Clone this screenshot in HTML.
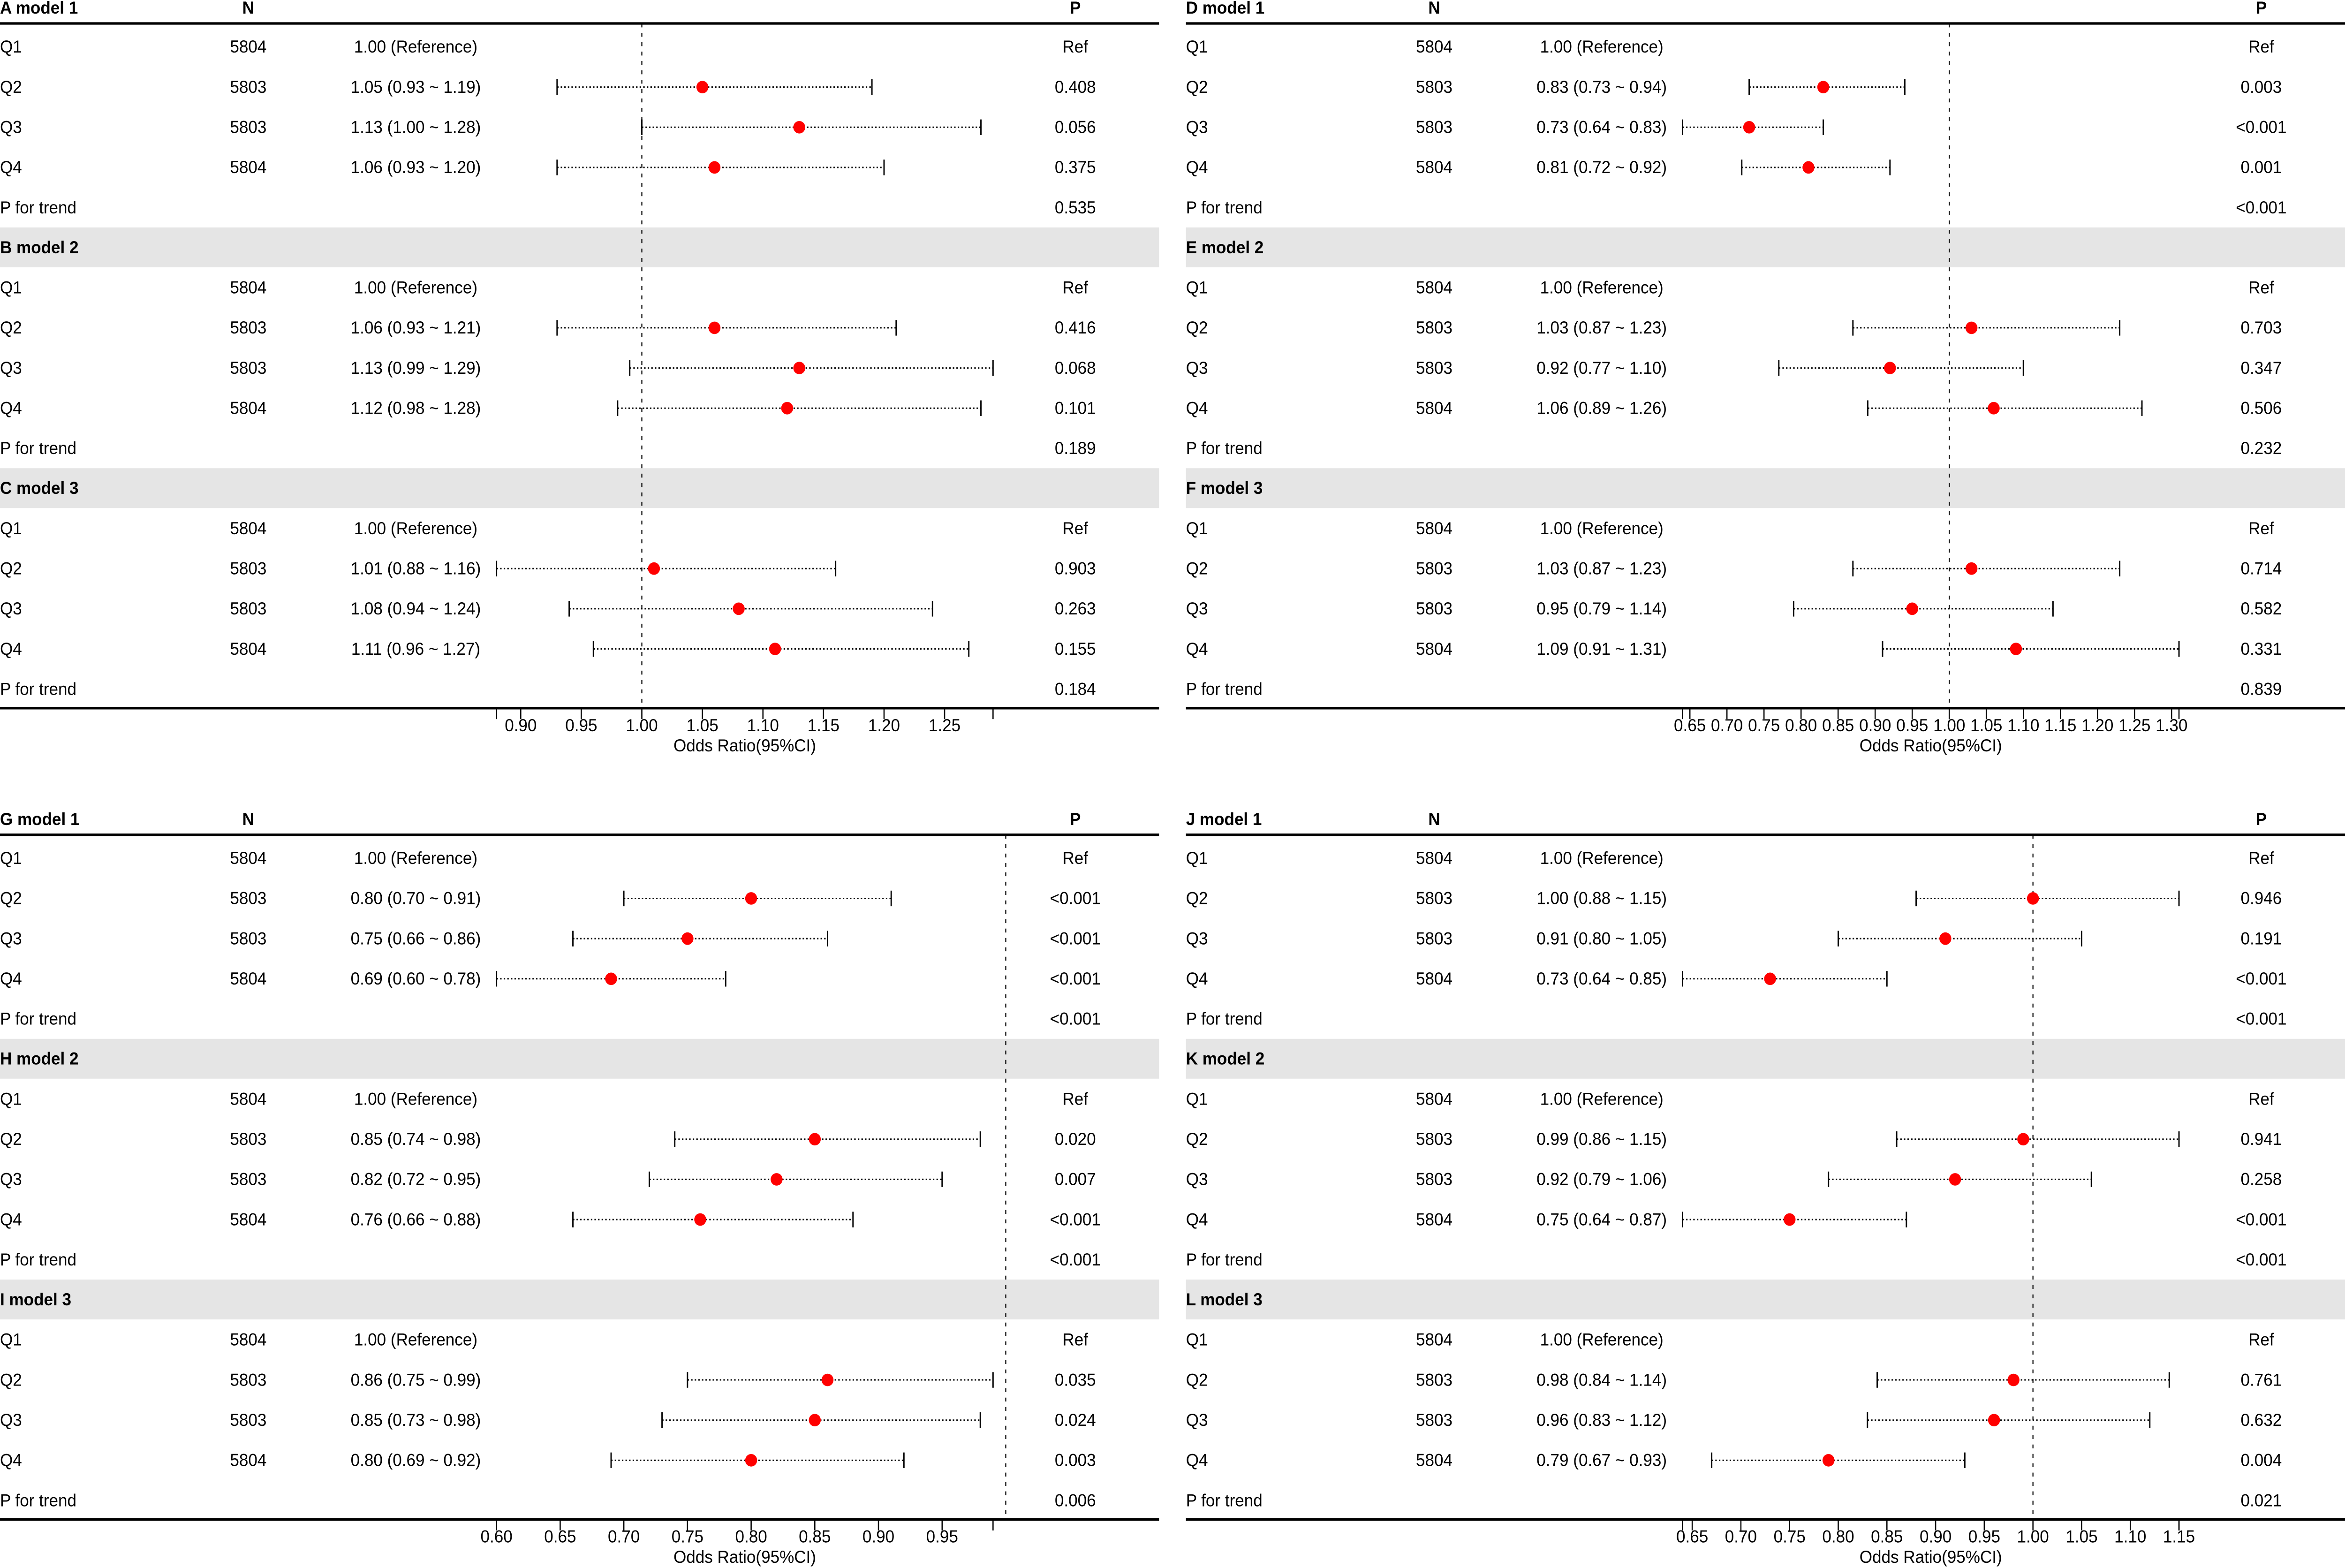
<!DOCTYPE html>
<html><head><meta charset="utf-8">
<style>
html,body{margin:0;padding:0;background:#fff;overflow:hidden;width:100%;height:100%;}
svg{display:block;width:100vw;height:100vh;}
text{font-family:"Liberation Sans",Arial,sans-serif;font-size:11px;fill:#000;}
.b{font-weight:bold;}
</style></head>
<body>
<svg id="chart" viewBox="0 0 1568 1003" preserveAspectRatio="none" xmlns="http://www.w3.org/2000/svg"></svg>
<script>
// ---- data ----
const panelLetters = [["A","B","C"],["D","E","F"],["G","H","I"],["J","K","L"]];
const modelNames = ["model 1","model 2","model 3"];
const quartiles = ["Q1","Q2","Q3","Q4"];
const nValues = ["5804","5803","5803","5804"];
// per panel-group, per model, Q2..Q4
const orEst = [
 [[1.05,1.13,1.06],[1.06,1.13,1.12],[1.01,1.08,1.11]],
 [[0.83,0.73,0.81],[1.03,0.92,1.06],[1.03,0.95,1.09]],
 [[0.80,0.75,0.69],[0.85,0.82,0.76],[0.86,0.85,0.80]],
 [[1.00,0.91,0.73],[0.99,0.92,0.75],[0.98,0.96,0.79]]
];
const orLow = [
 [[0.93,1.00,0.93],[0.93,0.99,0.98],[0.88,0.94,0.96]],
 [[0.73,0.64,0.72],[0.87,0.77,0.89],[0.87,0.79,0.91]],
 [[0.70,0.66,0.60],[0.74,0.72,0.66],[0.75,0.73,0.69]],
 [[0.88,0.80,0.64],[0.86,0.79,0.64],[0.84,0.83,0.67]]
];
const orHigh = [
 [[1.19,1.28,1.20],[1.21,1.29,1.28],[1.16,1.24,1.27]],
 [[0.94,0.83,0.92],[1.23,1.10,1.26],[1.23,1.14,1.31]],
 [[0.91,0.86,0.78],[0.98,0.95,0.88],[0.99,0.98,0.92]],
 [[1.15,1.05,0.85],[1.15,1.06,0.87],[1.14,1.12,0.93]]
];
const pValues = [
 [["0.408","0.056","0.375"],["0.416","0.068","0.101"],["0.903","0.263","0.155"]],
 [["0.003","<0.001","0.001"],["0.703","0.347","0.506"],["0.714","0.582","0.331"]],
 [["<0.001","<0.001","<0.001"],["0.020","0.007","<0.001"],["0.035","0.024","0.003"]],
 [["0.946","0.191","<0.001"],["0.941","0.258","<0.001"],["0.761","0.632","0.004"]]
];
const trendP = [
 ["0.535","0.189","0.184"],
 ["<0.001","0.232","0.839"],
 ["<0.001","<0.001","0.006"],
 ["<0.001","<0.001","0.021"]
];
const tickLabels = [
 ["0.90","0.95","1.00","1.05","1.10","1.15","1.20","1.25"],
 ["0.65","0.70","0.75","0.80","0.85","0.90","0.95","1.00","1.05","1.10","1.15","1.20","1.25","1.30"],
 ["0.60","0.65","0.70","0.75","0.80","0.85","0.90","0.95"],
 ["0.65","0.70","0.75","0.80","0.85","0.90","0.95","1.00","1.05","1.10","1.15"]
];
// ---- layout ----
const svg = document.getElementById('chart');
const NS = "http://www.w3.org/2000/svg";
function mk(tag, attrs, parent){
  const e = document.createElementNS(NS, tag);
  for (const k in attrs) e.setAttribute(k, attrs[k]);
  (parent||svg).appendChild(e);
  return e;
}
function txt(s, x, y, anchor, cls, parent){
  const t = mk('text', {x:x, y:y, 'text-anchor':anchor||'start', 'dominant-baseline':'central'}, parent);
  if (cls) t.setAttribute('class', cls);
  t.textContent = s;
  return t;
}
const groupX = [0, 793, 0, 793];
const groupY = [0, 0, 519, 519];
const PW = 775, AXW = 332, AX0 = 332, ROW = 25.7, SEC = 154;

for (let g = 0; g < 4; g++) {
  const gx = groupX[g], gy = groupY[g];
  const G = mk('g', {transform:`translate(${gx},${gy})`});
  
  
  let mn = Infinity, mx = -Infinity;
  orLow[g].forEach(r => r.forEach(v => mn = Math.min(mn, v)));
  orHigh[g].forEach(r => r.forEach(v => mx = Math.max(mx, v)));
  const xs = v => AX0 + (v - mn) / (mx - mn) * AXW;

  for (let m = 1; m < 3; m++) {
    const base = 30 + m * SEC;
    const band = mk('rect', {x:0, y:base - 38.5, width:PW, height:25.5, fill:'#e5e5e5'}, G);
    
    
  }
  const h1 = txt(panelLetters[g][0] + ' ' + modelNames[0], 0, 5, 'start', 'b', G);
  
  
  const hn = txt('N', 166, 5, 'middle', 'b', G);
  
  
  const hp = txt('P', 719, 5, 'middle', 'b', G);
  
  
  const topRule = mk('line', {x1:0, x2:PW, y1:15, y2:15, stroke:'#000', 'stroke-width':1.6}, G);
  
  

  const refL = mk('line', {x1:xs(1), x2:xs(1), y1:15, y2:453, stroke:'#000', 'stroke-width':0.7, 'stroke-dasharray':'2.5,3.5'}, G);
  
  

  for (let m = 0; m < 3; m++) {
    const base = 30 + m * SEC;
    if (m > 0) {
      const st = txt(panelLetters[g][m] + ' ' + modelNames[m], 0, base - ROW, 'start', 'b', G);
      
      
    }
    for (let q = 0; q < 4; q++) {
      const y = base + q * ROW;
      const l = txt(quartiles[q], 0, y, 'start', '', G);
      
      
      const n = txt(nValues[q], 166, y, 'middle', '', G);
      
      
      let estStr, pStr;
      if (q === 0) { estStr = '1.00 (Reference)'; pStr = 'Ref'; }
      else {
        const e = orEst[g][m][q-1], lo = orLow[g][m][q-1], hi = orHigh[g][m][q-1];
        estStr = `${e.toFixed(2)} (${lo.toFixed(2)} ~ ${hi.toFixed(2)})`;
        pStr = pValues[g][m][q-1];
        const ci = mk('line', {x1:xs(lo), x2:xs(hi), y1:y, y2:y, stroke:'#000', 'stroke-width':0.9, 'stroke-dasharray':'1,1.4'}, G);
        
        
        [lo, hi].forEach(v => {
          const c = mk('line', {x1:xs(v), x2:xs(v), y1:y-5, y2:y+5, stroke:'#000', 'stroke-width':0.9}, G);
          
          
        });
        const pt = mk('circle', {cx:xs(e), cy:y, r:4, fill:'#ff0000'}, G);
        
        
      }
      const es = txt(estStr, 278, y, 'middle', '', G);
      
      
      const p = txt(pStr, 719, y, 'middle', '', G);
      
      
    }
    const ty = base + 4 * ROW;
    const tl = txt('P for trend', 0, ty, 'start', '', G);
    
    
    const tp = txt(trendP[g][m], 719, ty, 'middle', '', G);
    
    
  }
  const br = mk('line', {x1:0, x2:PW, y1:453, y2:453, stroke:'#000', 'stroke-width':1.6}, G);
  
  
  [mn, mx].forEach(v => {
    const t = mk('line', {x1:xs(v), x2:xs(v), y1:453, y2:460, stroke:'#000', 'stroke-width':0.8}, G);
    
    
  });
  tickLabels[g].forEach(s => {
    const v = parseFloat(s);
    const t = mk('line', {x1:xs(v), x2:xs(v), y1:453, y2:460, stroke:'#000', 'stroke-width':0.8}, G);
    
    
    const tl = txt(s, xs(v), 464, 'middle', '', G);
    tl.setAttribute('font-size', '9.5');
    
    
  });
  const at = txt('Odds Ratio(95%CI)', xs(mn) + AXW / 2, 477, 'middle', '', G);
  
  
}
</script>
</body></html>
